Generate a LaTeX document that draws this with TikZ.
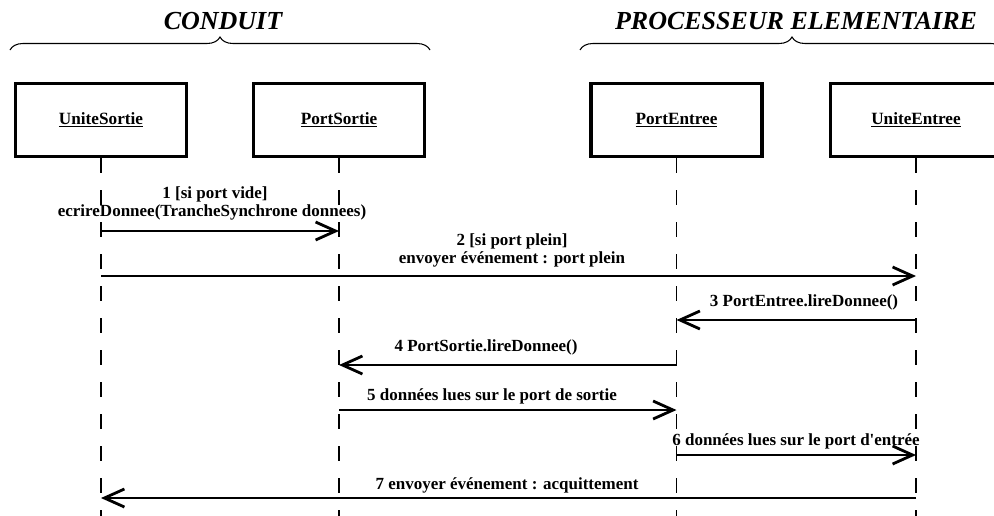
\documentclass[tikz,border=0pt]{standalone}
\usepackage{fontspec}
\setmainfont{Liberation Serif}
\newfontfamily\lblfont{Liberation Serif}
\usetikzlibrary{arrows.meta,decorations.pathreplacing}
\begin{document}
\begin{tikzpicture}[x=0.75pt,y=-0.75pt,
  obj/.style={draw, line width=2.4pt, minimum width=128.25pt, minimum height=54.75pt, inner sep=0pt,
    font=\lblfont\bfseries\fontsize{12.9}{15}\selectfont},
  life/.style={line width=1pt, dash pattern=on 11.25pt off 12.75pt},
  msg/.style={line width=2.1pt, -{Straight Barb[length=15pt,width=13.5pt,line width=2.1pt]}},
  lbl/.style={inner sep=0pt, font=\lblfont\bfseries\fontsize{12.75}{15}\selectfont},
  ttl/.style={inner sep=0pt, anchor=base, font=\bfseries\itshape\fontsize{19.5}{22}\selectfont},
  brc/.style={line width=0.8pt, decorate, decoration={brace, amplitude=9.75pt}}]
\useasboundingbox (0,0) rectangle (994,515);
\clip (0,0) rectangle (994,515);
% titles and braces
\node[ttl] (t1) at (223,29) {CONDUIT};
\node[ttl] (t2) at (796,29) {PROCESSEUR ELEMENTAIRE};
\coordinate (b1s) at (10,50);
\coordinate (b1e) at (430,50);
\coordinate (b2s) at (580,50);
\coordinate (b2e) at (1004,50);
\draw[brc] (b1s) -- (b1e);
\draw[brc] (b2s) -- (b2e);
% objects
\node[obj] (us) at (101,120) {\underline{UniteSortie}};
\node[obj] (ps) at (339,120) {\underline{PortSortie}};
\node[obj] (pe) at (676.5,120) {\underline{PortEntree}};
\node[obj] (ue) at (916,120) {\underline{UniteEntree}};
% lifelines
\coordinate (usE) at (101,520);
\coordinate (psE) at (339,520);
\coordinate (peE) at (676.5,520);
\coordinate (ueE) at (916,520);
\draw[life] (us.south) -- (usE);
\draw[life] (ps.south) -- (psE);
\draw[life] (pe.south) -- (peE);
\draw[life] (ue.south) -- (ueE);
% messages
\coordinate (m1) at (0,231);
\coordinate (m2) at (0,276);
\coordinate (m3) at (0,320);
\coordinate (m4) at (0,365);
\coordinate (m5) at (0,410);
\coordinate (m6) at (0,455);
\coordinate (m7) at (0,498);
\draw[msg] (us |- m1) -- (ps |- m1);
\draw[msg] (us |- m2) -- (ue |- m2);
\draw[msg] (ue |- m3) -- (pe |- m3);
\draw[msg] (pe |- m4) -- (ps |- m4);
\draw[msg] (ps |- m5) -- (pe |- m5);
\draw[msg] (pe |- m6) -- (ue |- m6);
\draw[msg] (ue |- m7) -- (us |- m7);
% labels
\node[lbl] (l1a) at (215,194) {1 [si port vide]};
\node[lbl] (l1b) at (212,212) {ecrireDonnee(TrancheSynchrone donnees)};
\node[lbl] (l2a) at (512,241) {2 [si port plein]};
\node[lbl] (l2b) at (512,259) {envoyer événement : port plein};
\node[lbl] (l3) at (804,302) {3 PortEntree.lireDonnee()};
\node[lbl] (l4) at (486,347) {4 PortSortie.lireDonnee()};
\node[lbl] (l5) at (492,396) {5 données lues sur le port de sortie};
\node[lbl] (l6) at (796,441) {6 données lues sur le port d'entrée};
\node[lbl] (l7) at (507,485) {7 envoyer événement : acquittement};
\end{tikzpicture}
\end{document}
